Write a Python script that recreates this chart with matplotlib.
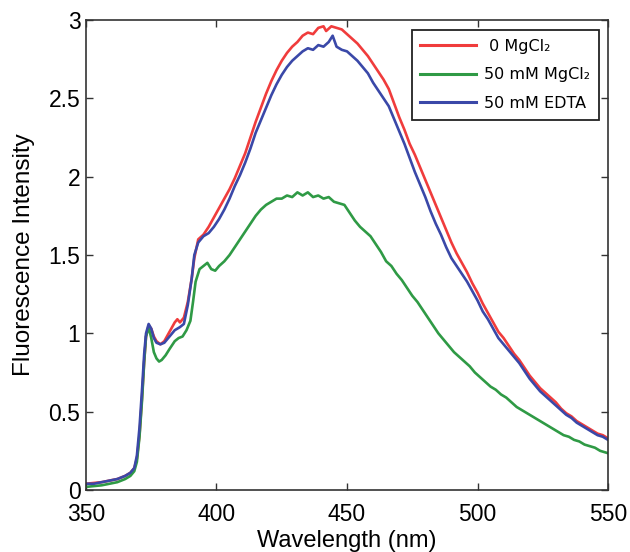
import matplotlib
matplotlib.use("Agg")
import matplotlib.pyplot as plt

# ---- data ----
wl_red = [350, 353, 356, 359, 362, 365, 367, 368.5, 369.5, 370.5, 371.5, 372.3, 373, 374, 375, 376, 377, 378.5,
          380, 382, 384, 385, 386, 387.5, 389, 390.5, 391.5, 393, 395, 397, 399, 401, 403, 405, 407, 409, 411,
          413, 415, 417, 419, 421, 423, 425, 427, 429, 431, 433, 435, 437, 439, 441, 442, 444, 446, 448, 450,
          452, 454, 456, 458, 460, 462, 464, 466, 468, 470, 472, 474, 476, 478, 480, 482, 484, 486, 488, 490,
          492, 494, 496, 498, 500, 502, 504, 506, 508, 510, 512, 514, 516, 518, 520, 522, 524, 526, 528, 530,
          532, 534, 536, 538, 540, 542, 544, 546, 548, 550]
int_red = [0.04, 0.045, 0.05, 0.06, 0.07, 0.09, 0.11, 0.14, 0.2, 0.35, 0.6, 0.82, 0.98, 1.05, 1.03, 0.98, 0.95, 0.93,
           0.95, 1.01, 1.07, 1.09, 1.07, 1.10, 1.2, 1.35, 1.48, 1.6, 1.63, 1.68, 1.74, 1.8, 1.86, 1.92, 1.99, 2.07, 2.15,
           2.25, 2.35, 2.44, 2.53, 2.61, 2.68, 2.74, 2.79, 2.83, 2.86, 2.9, 2.92, 2.91, 2.95, 2.96, 2.93, 2.96, 2.95, 2.94, 2.91,
           2.88, 2.85, 2.81, 2.77, 2.72, 2.67, 2.62, 2.56, 2.47, 2.38, 2.30, 2.21, 2.14, 2.06, 1.98, 1.90, 1.82, 1.74, 1.66, 1.58,
           1.51, 1.45, 1.39, 1.32, 1.26, 1.19, 1.13, 1.07, 1.01, 0.97, 0.92, 0.87, 0.83, 0.78, 0.73, 0.69, 0.65, 0.62, 0.59, 0.56,
           0.52, 0.49, 0.47, 0.44, 0.42, 0.40, 0.38, 0.36, 0.35, 0.33]

wl_green = [350, 353, 356, 359, 362, 365, 367, 368.5, 369.5, 370.5, 371.5, 372.3, 373, 374, 375, 376, 377, 378, 379,
            380.5, 382, 384, 385.5, 387, 388.5, 390, 391, 392, 393.5, 395, 396.5, 398, 399.5, 401, 403, 405, 407,
            409, 411, 413, 415, 417, 419, 421, 423, 425, 427, 429, 431, 433, 435, 437, 439, 441, 443, 445, 447,
            449, 451, 453, 455, 457, 459, 461, 463, 465, 467, 469, 471, 473, 475, 477, 479, 481, 483, 485, 487,
            489, 491, 493, 495, 497, 499, 501, 503, 505, 507, 509, 511, 513, 515, 517, 519, 521, 523, 525, 527,
            529, 531, 533, 535, 537, 539, 541, 543, 545, 547, 549, 550]
int_green = [0.02, 0.025, 0.03, 0.04, 0.05, 0.07, 0.09, 0.12, 0.18, 0.34, 0.58, 0.82, 0.98, 1.04, 0.97, 0.88, 0.84, 0.82, 0.83,
             0.86, 0.90, 0.95, 0.97, 0.98, 1.02, 1.08, 1.2, 1.33, 1.41, 1.43, 1.45, 1.41, 1.40, 1.43, 1.46, 1.50, 1.55,
             1.60, 1.65, 1.70, 1.75, 1.79, 1.82, 1.84, 1.86, 1.86, 1.88, 1.87, 1.90, 1.88, 1.90, 1.87, 1.88, 1.86, 1.87, 1.84, 1.83,
             1.82, 1.77, 1.72, 1.68, 1.65, 1.62, 1.57, 1.52, 1.46, 1.43, 1.38, 1.34, 1.29, 1.24, 1.20, 1.15, 1.10, 1.05, 1.00, 0.96,
             0.92, 0.88, 0.85, 0.82, 0.79, 0.75, 0.72, 0.69, 0.66, 0.64, 0.61, 0.59, 0.56, 0.53, 0.51, 0.49, 0.47, 0.45, 0.43, 0.41,
             0.39, 0.37, 0.35, 0.34, 0.32, 0.31, 0.29, 0.28, 0.27, 0.25, 0.24, 0.235]

wl_blue = [350, 353, 356, 359, 362, 365, 367, 368.5, 369.5, 370.5, 371.5, 372.3, 373, 374, 375, 376, 377, 378.5,
           380, 382, 384, 386, 387.5, 389, 390.5, 391.5, 393, 395, 397, 399, 401, 403, 405, 407, 409, 411, 413,
           415, 417, 419, 421, 423, 425, 427, 429, 431, 433, 435, 437, 439, 441, 443, 444.5, 446, 448, 450, 452,
           454, 456, 458, 460, 462, 464, 466, 468, 470, 472, 474, 476, 478, 480, 482, 484, 486, 488, 490, 492,
           494, 496, 498, 500, 502, 504, 506, 508, 510, 512, 514, 516, 518, 520, 522, 524, 526, 528, 530, 532,
           534, 536, 538, 540, 542, 544, 546, 548, 550]
int_blue = [0.04, 0.04, 0.05, 0.06, 0.07, 0.09, 0.11, 0.14, 0.22, 0.4, 0.65, 0.87, 1.0, 1.06, 1.03, 0.97, 0.94, 0.93,
            0.94, 0.98, 1.02, 1.04, 1.06, 1.18, 1.35, 1.5, 1.58, 1.62, 1.64, 1.68, 1.73, 1.79, 1.86, 1.94, 2.01, 2.09, 2.18,
            2.28, 2.36, 2.44, 2.52, 2.59, 2.65, 2.70, 2.74, 2.77, 2.80, 2.82, 2.81, 2.84, 2.83, 2.86, 2.90, 2.83, 2.81, 2.80, 2.77,
            2.74, 2.70, 2.66, 2.60, 2.55, 2.50, 2.45, 2.37, 2.29, 2.21, 2.12, 2.03, 1.95, 1.87, 1.78, 1.70, 1.63, 1.55, 1.48, 1.43,
            1.38, 1.33, 1.27, 1.21, 1.14, 1.09, 1.03, 0.97, 0.93, 0.89, 0.85, 0.81, 0.76, 0.71, 0.67, 0.63, 0.60, 0.57, 0.54, 0.51,
            0.48, 0.46, 0.43, 0.41, 0.39, 0.37, 0.35, 0.34, 0.32]

labels = [" 0 MgCl\u2082", "50 mM MgCl\u2082", "50 mM EDTA"]
colors = ["#f03c3c", "#2f9a45", "#3a48a8"]
x_ticks = [350, 400, 450, 500, 550]
y_ticks = [0, 0.5, 1, 1.5, 2, 2.5, 3]
y_tick_labels = ["0", "0.5", "1", "1.5", "2", "2.5", "3"]

# ---- figure ----
fig = plt.figure(figsize=(6.3, 5.52), dpi=100)
ax = fig.add_axes([0.1365, 0.1123, 0.8286, 0.8514])

ax.plot(wl_red, int_red, color=colors[0], lw=1.9, label=labels[0])
ax.plot(wl_green, int_green, color=colors[1], lw=1.9, label=labels[1])
ax.plot(wl_blue, int_blue, color=colors[2], lw=1.9, label=labels[2])

ax.set_xlim(350, 550)
ax.set_ylim(0, 3)
ax.set_xticks(x_ticks)
ax.set_yticks(y_ticks)
ax.set_yticklabels(y_tick_labels)

for t in ax.get_xticklabels() + ax.get_yticklabels():
    t.set_fontfamily("Liberation Sans")
    t.set_fontsize(16.5)
ax.tick_params(direction="in", top=True, right=True, length=5, width=1, color="#333333")
ax.tick_params(axis="x", pad=9)
ax.tick_params(axis="y", pad=4)
ax.set_xlabel("Wavelength (nm)", fontfamily="Liberation Sans", fontsize=17, labelpad=3)
ax.set_ylabel("Fluorescence Intensity", fontfamily="Liberation Sans", fontsize=17.5, labelpad=10)
for s in ax.spines.values():
    s.set_linewidth(1.2)
    s.set_color("#333333")

leg = ax.legend(loc="upper right", bbox_to_anchor=(0.983, 0.979), borderaxespad=0,
                fancybox=False, edgecolor="#222222", framealpha=1,
                prop={"family": "DejaVu Sans", "size": 11.5},
                handlelength=3.5, handletextpad=0.5, labelspacing=0.85, borderpad=0.55)
leg.get_frame().set_linewidth(1.3)
for line in leg.get_lines():
    line.set_linewidth(2.2)

fig.savefig("out.png", dpi=100)
